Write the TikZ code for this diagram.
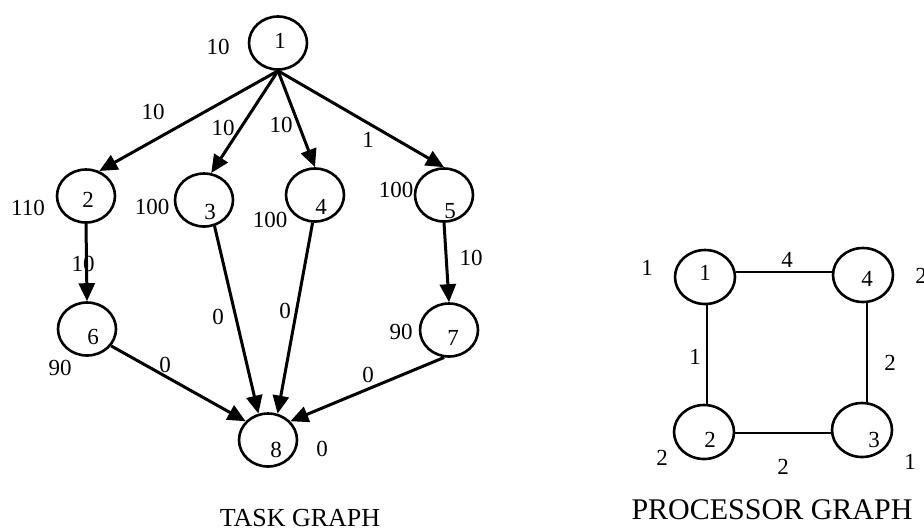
\documentclass[tikz,border=0pt]{standalone}
\usepackage{fontspec}
\setmainfont{Liberation Serif}
\usetikzlibrary{shapes.geometric,arrows.meta}
\begin{document}
\begin{tikzpicture}[x=0.5pt,y=-0.5pt,
  font=\fontsize{11.5}{13}\selectfont,
  task/.style={ellipse,draw,line width=1.3pt,minimum width=29pt,minimum height=26.5pt,inner sep=0pt},
  proc/.style={ellipse,draw,line width=1.3pt,minimum width=30pt,minimum height=27pt,inner sep=0pt},
  num/.style={inner sep=0pt},
  arc/.style={line width=1.5pt,-{Triangle[length=9pt,width=8pt]}},
  link/.style={line width=1.1pt},
  title/.style={inner sep=0pt}]
\useasboundingbox (0,0) rectangle (924,531);

% task graph nodes
\node[task,label={[num,xshift=1pt,yshift=1pt]center:1}] (t1) at (278,43) {};
\node[task,label={[num,xshift=1pt,yshift=-2pt]center:2}] (t2) at (86,196) {};
\node[task,label={[num,xshift=3pt,yshift=-6pt]center:3}] (t3) at (204,200) {};
\node[task,label={[num,xshift=3pt,yshift=-6pt]center:4}] (t4) at (315,195) {};
\node[task,label={[num,xshift=3pt,yshift=-8pt]center:5}] (t5) at (444,195) {};
\node[task,label={[num,xshift=3pt,yshift=-4pt]center:6}] (t6) at (87,329) {};
\node[task,label={[num,xshift=2pt,yshift=-4pt]center:7}] (t7) at (449,330) {};
\node[task,label={[num,xshift=4pt,yshift=-5pt]center:8}] (t8) at (268,440) {};

% task weights
\node[num] (w1) at (218,47) {10};
\node[num] (w2) at (28,208) {110};
\node[num] (w3) at (152,207) {100};
\node[num] (w4) at (270,220) {100};
\node[num] (w5) at (396,190) {100};
\node[num] (w6) at (60,368) {90};
\node[num] (w7) at (401,332) {90};
\node[num] (w8) at (322,449) {0};

% precedence arcs
\draw[arc] (t1.south) -- (t2.62);
\draw[arc] (t1.south) -- (t3.75);
\draw[arc] (t1.south) -- (t4.north);
\draw[arc] (t1.south) -- (t5.north);
\draw[arc] (t2.south) -- (t6.north);
\draw[arc] (t5.south) -- (t7.north);
\draw[arc] (t3.-68) -- (t8.110);
\draw[arc] (t4.-95) -- (t8.70);
\draw[arc] (t6.-35) -- (t8.140);
\draw[arc] (t7.-100) -- (t8.40);

% communication costs
\node[num] (c12) at (153,112) {10};
\node[num] (c13) at (223,128) {10};
\node[num] (c14) at (281,125) {10};
\node[num] (c15) at (368,140) {1};
\node[num] (c26) at (83,264) {10};
\node[num] (c57) at (471,258) {10};
\node[num] (c38) at (218,317) {0};
\node[num] (c48) at (285,311) {0};
\node[num] (c68) at (165,365) {0};
\node[num] (c78) at (368,375) {0};

\node[title,font=\fontsize{13}{15}\selectfont] (tt) at (300,518) {TASK GRAPH};

% processor graph
\node[proc,label={[num,xshift=0pt,yshift=2pt]center:1}] (p1) at (705,277) {};
\node[proc,label={[num,xshift=2pt,yshift=-2pt]center:4}] (p4) at (863,275) {};
\node[proc,label={[num,xshift=3pt,yshift=-4pt]center:2}] (p2) at (704,432) {};
\node[proc,label={[num,xshift=6pt,yshift=-5pt]center:3}] (p3) at (862,430) {};

\node[num] (q1) at (647,268) {1};
\node[num] (q4) at (921,276) {2};
\node[num] (q2) at (662,458) {2};
\node[num] (q3) at (910,462) {1};

\draw[link] (p1.east |- 0,272) -- (p4.west |- 0,272);
\draw[link] (p1.south -| 707,0) -- (p2.north -| 707,0);
\draw[link] (p4.south -| 867,0) -- (p3.north -| 867,0);
\draw[link] (p2.east |- 0,433) -- (p3.west |- 0,433);

\node[num] (l14) at (787,260) {4};
\node[num] (l12) at (695,357) {1};
\node[num] (l43) at (890,363) {2};
\node[num] (l23) at (783,467) {2};

\node[title,font=\fontsize{15}{17}\selectfont] (pt) at (772,510) {PROCESSOR GRAPH};
\end{tikzpicture}
\end{document}
